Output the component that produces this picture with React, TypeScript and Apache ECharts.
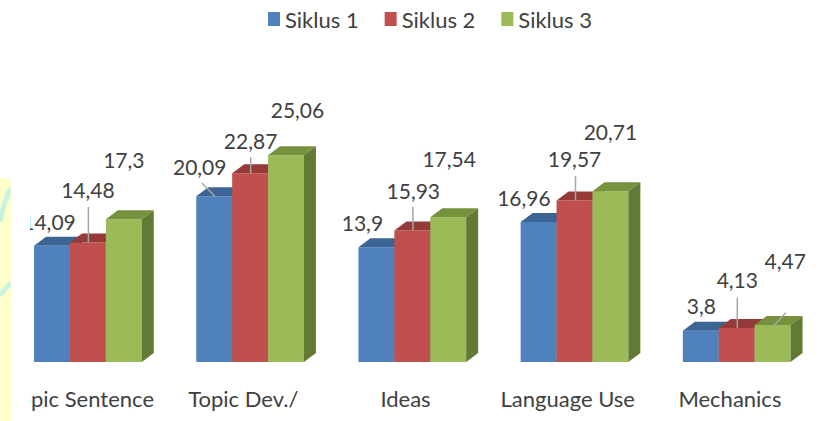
import React, { useEffect, useRef } from "react";
import * as echarts from "echarts";

// ---- data ----
const categories = ["Topic Sentence", "Topic Dev./", "Ideas", "Language Use", "Mechanics"];
const seriesNames = ["Siklus 1", "Siklus 2", "Siklus 3"];
const siklus1 = [14.09, 20.09, 13.9, 16.96, 3.8];
const siklus2 = [14.48, 22.87, 15.93, 19.57, 4.13];
const siklus3 = [17.3, 25.06, 17.54, 20.71, 4.47];
const allSeries = [siklus1, siklus2, siklus3];

// ---- styles / layout ----
const FRONT = ["#4F81BD", "#C0504D", "#9BBB59"];
const TOP = ["#3C6494", "#953A38", "#76923C"];
const SIDE = ["#385D8A", "#8A3432", "#627A33"];
const TEXT = "#404040";
const FONT = "Lato, 'Open Sans', sans-serif";

// label centre offsets from each bar's front-top centre [dx, dy]
const LABEL_OFFSETS: number[][][] = [
  [[-3, -24], [-14.5, -30], [-14, -25], [-14.7, -25], [0.6, -25]],
  [[0, -53.5], [0.5, -33], [1, -40], [0, -42.5], [0.6, -48]],
  [[0, -60], [11.5, -46], [1, -59], [0, -60], [12.6, -65]],
];
// leader lines relative to bar front-top centre [x1, y1, x2, y2] or null
const LEADERS: (number[] | null)[][] = [
  [null, [-12.4, -13.3, 0.6, 0], null, null, null],
  [[0.5, -35.5, 0.5, 0], [0.6, -16, 0.6, 0], [0.6, -23.6, 0.6, 0], [1, -24.5, 1, 0], [0.6, -30.2, 0.6, 0]],
  [null, null, null, null, [13.3, -12.4, 0.9, 0.6]],
];

const fmt = (v: number) => String(v).replace(".", ",");

function makeRender(s: number) {
  return (params: any, api: any) => {
    const cat = api.value(0);
    const val = api.value(1);
    const base = api.coord([cat, 0]);
    const top = api.coord([cat, val]);
    const band = api.size([1, 0])[0];
    const w = band * 0.2213;
    const cx = base[0];
    const baseY = base[1];
    const topY = top[1];
    const x0 = cx - band * 0.29 + s * w;
    const dx = 12;
    const dy = 9;
    const ax = x0 + w / 2;
    const children: any[] = [
      {
        type: "rect",
        shape: { x: x0, y: topY, width: w, height: baseY - topY },
        style: { fill: FRONT[s] },
        z2: s * 3,
      },
      {
        type: "polygon",
        shape: { points: [[x0, topY], [x0 + dx, topY - dy], [x0 + w + dx, topY - dy], [x0 + w, topY]] },
        style: { fill: TOP[s] },
        z2: s * 3 + 1,
      },
      {
        type: "polygon",
        shape: { points: [[x0 + w, topY], [x0 + w + dx, topY - dy], [x0 + w + dx, baseY - dy], [x0 + w, baseY]] },
        style: { fill: SIDE[s] },
        z2: s * 3 + 1,
      },
    ];
    const off = LABEL_OFFSETS[s][cat];
    children.push({
      type: "text",
      z2: 100,
      style: {
        x: ax + off[0],
        y: topY + off[1],
        text: fmt(val),
        fill: TEXT,
        fontSize: 21,
        fontFamily: FONT,
        align: "center",
        verticalAlign: "middle",
      },
    });
    const ld = LEADERS[s][cat];
    if (ld) {
      children.push({
        type: "line",
        z2: 90,
        shape: { x1: ax + ld[0], y1: topY + ld[1], x2: ax + ld[2], y2: topY + ld[3] },
        style: { stroke: "#A6A6A6", lineWidth: 1.5 },
      });
    }
    return { type: "group", children };
  };
}

export default function App() {
  const ref = useRef<HTMLDivElement>(null);
  useEffect(() => {
    if (!ref.current) return;
    const chart = echarts.init(ref.current, undefined, { renderer: "svg" });
    chart.setOption({
      animation: false,
      backgroundColor: "transparent",
      legend: {
        data: seriesNames,
        left: 263,
        top: 3,
        icon: "rect",
        itemWidth: 12,
        itemHeight: 14,
        itemGap: 26,
        textStyle: { color: TEXT, fontSize: 22, fontFamily: FONT },
      },
      grid: { left: -2, right: 28, top: 114.5, bottom: 59 },
      xAxis: {
        type: "category",
        data: categories,
        axisLine: { show: false },
        axisTick: { show: false },
        axisLabel: { color: TEXT, fontSize: 22, fontFamily: FONT, margin: 25, interval: 0 },
        splitLine: { show: false },
      },
      yAxis: { type: "value", min: 0, max: 30, show: false, splitLine: { show: false } },
      series: allSeries.map((vals, s) => ({
        type: "custom",
        name: seriesNames[s],
        clip: false,
        itemStyle: { color: FRONT[s] },
        encode: { x: 0, y: 1 },
        data: vals.map((v, i) => [i, v]),
        renderItem: makeRender(s),
      })),
    });
    return () => chart.dispose();
  }, []);

  return (
    <div style={{ position: "fixed", left: 0, top: 0, width: 839, height: 421, background: "#fff", overflow: "hidden" }}>
      <div style={{ position: "absolute", left: 0, top: 178, width: 11, height: 243, background: "#FFFFCC" }}>
        <svg width={11} height={243} style={{ display: "block" }}>
          <path d="M0 44 Q4 22 11 10" stroke="#C8F3DC" strokeWidth={5} fill="none" />
          <path d="M0 118 Q5 110 11 105" stroke="#C8F3DC" strokeWidth={5} fill="none" />
        </svg>
      </div>
      <div style={{ position: "absolute", left: 30, top: 0, width: 809, height: 421, overflow: "hidden" }}>
        <div ref={ref} style={{ position: "absolute", left: -30, top: 0, width: 839, height: 421 }} />
      </div>
    </div>
  );
}
